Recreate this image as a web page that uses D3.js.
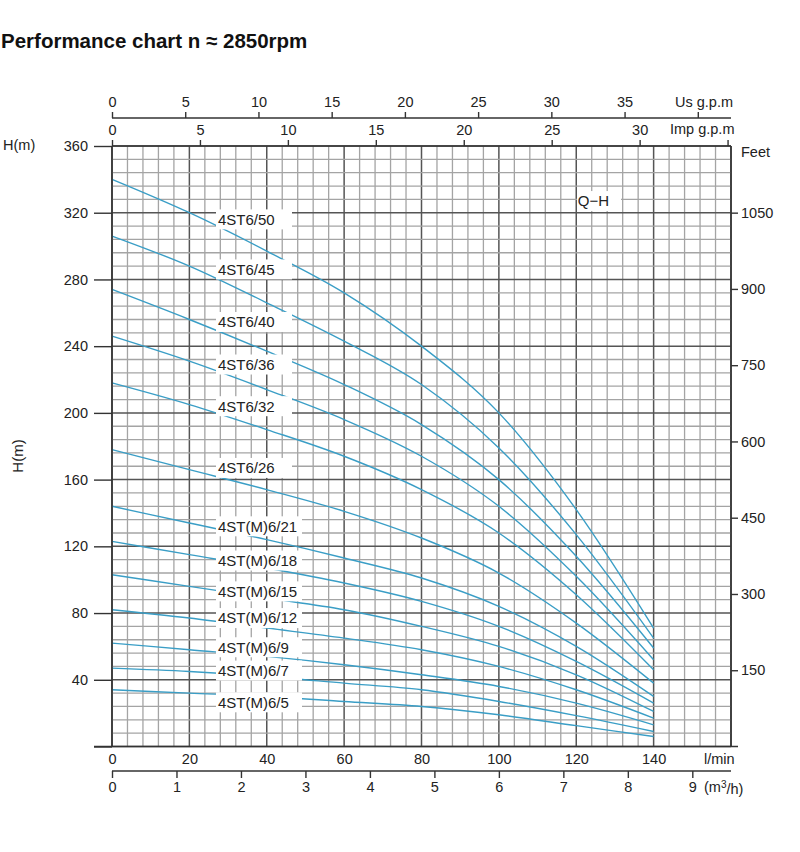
<!DOCTYPE html>
<html>
<head>
<meta charset="utf-8"/>
<title>Performance chart</title>
<script src="https://cdn.jsdelivr.net/npm/d3@7"></script>
<style>
html, body {
    margin: 0;
    padding: 0;
    background: #fff;
}
svg text {
    font-family: "Liberation Sans", Arial, sans-serif;
    fill: #222;
}
</style>
</head>
<body>
<svg id="chart" width="800" height="852"></svg>

<script>

var flow = [0, 20, 40, 60, 80, 100, 120, 140];

// Pump models, top to bottom.
var models = ["4ST6/50", "4ST6/45", "4ST6/40", "4ST6/36", "4ST6/32", "4ST6/26",
    "4ST(M)6/21", "4ST(M)6/18", "4ST(M)6/15", "4ST(M)6/12", "4ST(M)6/9",
    "4ST(M)6/7", "4ST(M)6/5"];

// Head (m) at each flow point, one row per model.
var heads = [
    [340, 320, 297, 272, 240, 200, 142, 71],
    [306, 288, 266, 243, 217, 179, 127, 65],
    [274, 256, 237, 217, 193, 160, 114, 59],
    [246, 231, 214, 196, 174, 144, 102, 52],
    [218, 205, 190, 174, 154, 128, 91, 46],
    [178, 166, 154, 141, 125, 104, 74, 38],
    [144, 134, 124, 113, 101, 84, 60, 30],
    [123, 115, 107, 98, 87, 72, 51, 26],
    [103, 96, 89, 82, 72, 60, 43, 21],
    [82, 77, 71, 65, 58, 48, 34, 17],
    [62, 58, 54, 49, 43, 36, 26, 13],
    [47, 45, 42, 38, 34, 27, 18.5, 9],
    [34, 32, 30, 27, 24, 19, 12.5, 6]
];

// Head (m) where each model's name sits.
var labelHeads = [316, 286, 254.5, 229, 204, 167, 132, 111.5, 93, 77, 59.5, 45.5, 26.5];
var labelFlow = 27.4;

// Tick values of every axis.
var headTicks = [0, 40, 80, 120, 160, 200, 240, 280, 320, 360];
var feetTicks = [150, 300, 450, 600, 750, 900, 1050];
var lminTicks = [0, 20, 40, 60, 80, 100, 120, 140];
var m3hTicks = [0, 1, 2, 3, 4, 5, 6, 7, 8, 9];
var usTicks = [0, 5, 10, 15, 20, 25, 30, 35, 40];
var impTicks = [0, 5, 10, 15, 20, 25, 30, 35];

// Unit conversions.
var L_PER_USGAL = 3.785411784;
var L_PER_IMPGAL = 4.54609;
var M_PER_FT = 0.3048;

var svg = d3.select("#chart");

// Plot area.
var plotL = 112, plotR = 731, plotT = 146, plotB = 746.5;
var x = d3.scaleLinear().domain([0, 160]).range([plotL, plotR]);
var y = d3.scaleLinear().domain([0, 360]).range([plotB, plotT]);

// Title.
svg.append("text")
    .attr("x", 1)
    .attr("y", 48)
    .style("font-size", "20.5px")
    .style("font-weight", "bold")
    .style("fill", "#111")
    .text("Performance chart n \u2248 2850rpm");

// Grid.
var grid = svg.append("g");
grid.selectAll(".vminor")
    .data(d3.range(0, 161, 4))
    .enter().append("line")
    .attr("x1", d => x(d)).attr("x2", d => x(d))
    .attr("y1", plotT).attr("y2", plotB)
    .attr("stroke", d => d % 20 == 0 ? "#555" : "#a4a4a4")
    .attr("stroke-width", d => d % 20 == 0 ? 1.5 : 1.3);
grid.selectAll(".hminor")
    .data(d3.range(0, 361, 8))
    .enter().append("line")
    .attr("x1", plotL).attr("x2", plotR)
    .attr("y1", d => y(d)).attr("y2", d => y(d))
    .attr("stroke", d => d % 40 == 0 ? "#555" : "#a4a4a4")
    .attr("stroke-width", d => d % 40 == 0 ? 1.5 : 1.3);

// Curves.
var line = d3.line()
    .x(d => x(d[0]))
    .y(d => y(d[1]))
    .curve(d3.curveMonotoneX);
svg.append("g").selectAll("path")
    .data(heads)
    .enter().append("path")
    .attr("d", h => line(flow.map((q, i) => [q, h[i]])))
    .attr("fill", "none")
    .attr("stroke", "#3a9ec6")
    .attr("stroke-width", 1.4);

// Model labels on white boxes.
var labels = svg.append("g");
models.forEach(function(name, i) {
    var cy = y(labelHeads[i]);
    var w = name.indexOf("(M)") >= 0 ? 86 : 76;
    labels.append("rect")
        .attr("x", x(labelFlow) - 2)
        .attr("y", cy - 10)
        .attr("width", w)
        .attr("height", 20)
        .attr("fill", "#fff");
    labels.append("text")
        .attr("x", x(labelFlow))
        .attr("y", cy)
        .attr("dy", "0.36em")
        .style("font-size", "15px")
        .text(name);
});

// Q-H label.
labels.append("rect")
    .attr("x", x(120.2)).attr("y", y(327) - 10)
    .attr("width", 44).attr("height", 20)
    .attr("fill", "#fff");
labels.append("text")
    .attr("x", x(120.4))
    .attr("y", y(327))
    .attr("dy", "0.36em")
    .style("font-size", "15px")
    .text("Q\u2212H");

// Frame.
var frame = svg.append("g").attr("stroke", "#333").attr("stroke-width", 1.6);
frame.append("line").attr("x1", plotL).attr("x2", plotL).attr("y1", plotT).attr("y2", plotB);
frame.append("line").attr("x1", plotR).attr("x2", plotR).attr("y1", plotT).attr("y2", plotB);
frame.append("line").attr("x1", plotL).attr("x2", plotR).attr("y1", plotT).attr("y2", plotT);
frame.append("line").attr("x1", 94).attr("x2", 738).attr("y1", plotB).attr("y2", plotB);

function styleAxis(g) {
    g.select(".domain").remove();
    g.selectAll(".tick line").attr("stroke", "#333").attr("stroke-width", 1.4);
    g.selectAll(".tick text")
        .style("font-size", "14.5px")
        .style("font-family", "'Liberation Sans', Arial, sans-serif")
        .attr("fill", "#222");
}

// Left axis H(m).
svg.append("g")
    .attr("transform", "translate(" + plotL + ",0)")
    .call(d3.axisLeft(y).tickValues(headTicks).tickSize(18).tickPadding(6)
        .tickFormat(d => d == 0 ? "" : d))
    .call(styleAxis);

// Right axis Feet.
var yFeet = d3.scaleLinear().domain([0, 360 / M_PER_FT]).range([plotB, plotT]);
svg.append("g")
    .attr("transform", "translate(" + plotR + ",0)")
    .call(d3.axisRight(yFeet).tickValues(feetTicks).tickSize(7).tickPadding(3)
        .tickFormat(d3.format("d")))
    .call(styleAxis);

// Bottom axis l/min.
svg.append("g")
    .attr("transform", "translate(0," + plotB + ")")
    .call(d3.axisBottom(x).tickValues(lminTicks).tickSize(0).tickPadding(7.5))
    .call(styleAxis);

// Bottom axis m3/h.
var xM3 = d3.scaleLinear().domain([0, 160 * 60 / 1000]).range([plotL, plotR]);
var m3Y = 771;
svg.append("line")
    .attr("x1", plotL).attr("x2", plotR).attr("y1", m3Y).attr("y2", m3Y)
    .attr("stroke", "#333").attr("stroke-width", 1.6);
svg.append("g")
    .attr("transform", "translate(0," + m3Y + ")")
    .call(d3.axisBottom(xM3).tickValues(m3hTicks).tickSize(7).tickPadding(4))
    .call(styleAxis);

// Top axis Us g.p.m.
var xUs = d3.scaleLinear().domain([0, 160 / L_PER_USGAL]).range([plotL, plotR]);
var usY = 118;
svg.append("line")
    .attr("x1", plotL).attr("x2", plotR).attr("y1", usY).attr("y2", usY)
    .attr("stroke", "#333").attr("stroke-width", 1.6);
svg.append("g")
    .attr("transform", "translate(0," + usY + ")")
    .call(d3.axisTop(xUs).tickValues(usTicks).tickSize(6).tickPadding(5)
        .tickFormat(d => d == 40 ? "" : d))
    .call(styleAxis);

// Top axis Imp g.p.m.
var xImp = d3.scaleLinear().domain([0, 160 / L_PER_IMPGAL]).range([plotL, plotR]);
svg.append("g")
    .attr("transform", "translate(0," + plotT + ")")
    .call(d3.axisTop(xImp).tickValues(impTicks).tickSize(6).tickPadding(5)
        .tickFormat(d => d == 35 ? "" : d))
    .call(styleAxis);

// Unit labels.
function unitLabel(tx, ty, s) {
    return svg.append("text")
        .attr("x", tx).attr("y", ty)
        .attr("dy", "0.36em")
        .style("font-size", "14.5px")
        .text(s);
}
unitLabel(675, 102, "Us g.p.m");
unitLabel(670, 129, "Imp g.p.m");
unitLabel(741, 152, "Feet");
unitLabel(3, 145, "H(m)");
unitLabel(704, 759, "l/min");
var m3 = unitLabel(704, 787, "(m");
m3.append("tspan").attr("dy", "-0.45em").style("font-size", "10px").text("3");
m3.append("tspan").attr("dy", "0.45em").text("/h)");

svg.append("text")
    .attr("transform", "translate(18,456) rotate(-90)")
    .attr("text-anchor", "middle")
    .attr("dy", "0.36em")
    .style("font-size", "15px")
    .text("H(m)");

</script>
</body>
</html>
